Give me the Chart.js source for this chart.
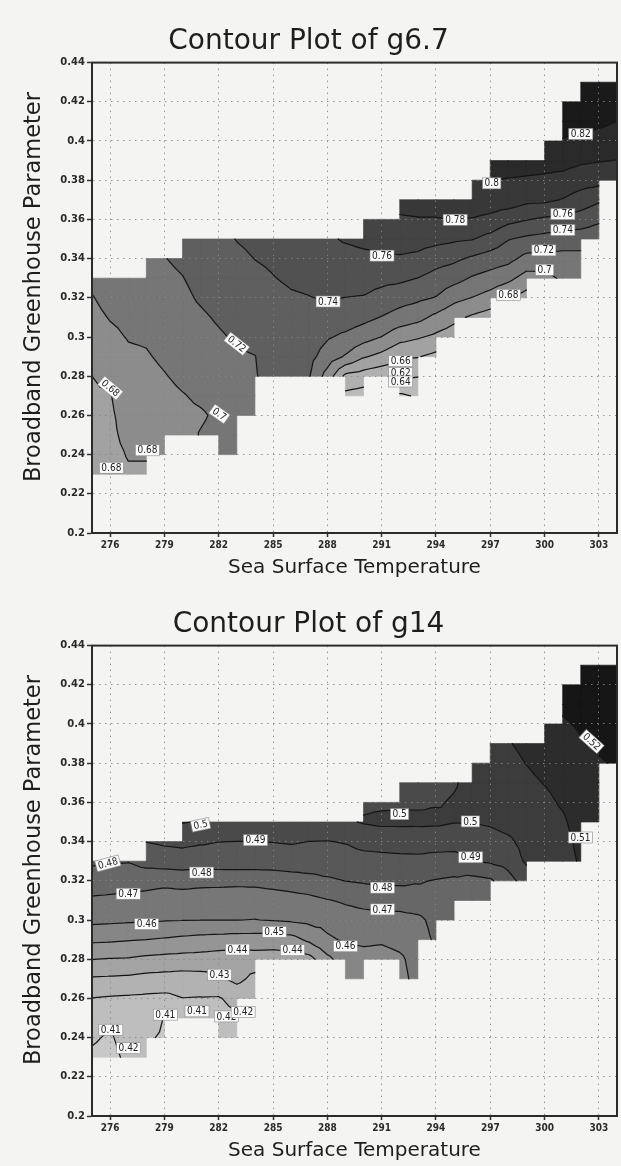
<!DOCTYPE html>
<html lang="en">
<head>
<meta charset="utf-8">
<title>Contour plots of g6.7 and g14</title>
<script src="https://cdn.jsdelivr.net/npm/chart.js@4.4.1/dist/chart.umd.min.js"></script>
<style>
    html, body { margin: 0; padding: 0; background: #f4f4f3; }
    .panel { width: 621px; height: 583px; }
    canvas { display: block; }
</style>
</head>
<body>
<div class="panel"><canvas id="g67-canvas" width="621" height="583"></canvas></div>
<div class="panel"><canvas id="g14-canvas" width="621" height="583"></canvas></div>
<script>
"use strict";

// Axis ticks
const sstTicks = [276, 279, 282, 285, 288, 291, 294, 297, 300, 303];
const ghpTicks = [0.2, 0.22, 0.24, 0.26, 0.28, 0.3, 0.32, 0.34, 0.36, 0.38, 0.4, 0.42, 0.44];

// Grid nodes along the temperature axis (one data cell = 1 K by 0.01)
const sstNodes = [275, 276, 277, 278, 279, 280, 281, 282, 283, 284, 285, 286, 287, 288, 289,
    290, 291, 292, 293, 294, 295, 296, 297, 298, 299, 300, 301, 302, 303, 304];

// Lower / upper edge of the data region for each cell column 275 ... 303
const cellLow = [0.23, 0.23, 0.23, 0.24, 0.25, 0.25, 0.25, 0.24, 0.26, 0.28, 0.28, 0.28, 0.28, 0.28, 0.27,
    0.28, 0.28, 0.27, 0.29, 0.30, 0.31, 0.31, 0.32, 0.32, 0.33, 0.33, 0.33, 0.35, 0.38];
const cellHigh = [0.33, 0.33, 0.33, 0.34, 0.34, 0.35, 0.35, 0.35, 0.35, 0.35, 0.35, 0.35, 0.35, 0.35, 0.35,
    0.36, 0.36, 0.37, 0.37, 0.37, 0.37, 0.38, 0.39, 0.39, 0.39, 0.40, 0.42, 0.43, 0.43];

// g6.7 at the nodes, in thousandths. One list per node column, from its lowest node upwards.
const g67Values = [
    [672, 673, 674, 676, 678, 680, 685, 690, 695, 699, 705],
    [674, 675, 676, 677, 679, 684, 690, 696, 701, 706, 710],
    [678, 681, 685, 688, 691, 694, 697, 701, 704, 708, 712],
    [678, 681, 685, 688, 692, 695, 698.5, 702, 706, 710, 714, 718],
    [684, 687, 691, 695, 699, 703, 706.5, 710, 713, 716.5, 719.5],
    [693, 696, 699, 704, 708, 711, 714, 716.5, 719.5, 723, 726],
    [701, 698, 703, 707, 711, 714, 717.5, 722, 725, 728, 731],
    [706, 705, 703, 706, 710, 714, 718, 722, 726, 729, 732, 736],
    [708, 708, 709, 712, 715, 718, 722, 726, 730, 734, 737, 740.5],
    [713, 716, 719, 719.7, 724, 729, 733, 737, 740.2, 743],
    [725, 727, 730, 733, 736, 739.5, 742, 745],
    [727, 730, 733, 735.5, 738.5, 742, 745, 748],
    [721, 726, 731, 735, 739.6, 743, 747, 750],
    [692, 711, 722, 732, 741, 746.5, 752, 757],
    [635, 655, 698, 716, 731, 739.8, 747, 753, 762],
    [632, 650, 682, 708, 726, 739, 747, 755, 765, 772],
    [645, 674, 699.5, 719, 734, 745, 758, 766, 772],
    [617, 644, 663, 687, 712, 728, 744, 758, 768, 778, 786],
    [622, 641, 661, 682, 706, 724, 739.8, 756, 767, 779, 787],
    [655, 676, 695, 719, 733, 748, 766, 779, 789],
    [670, 685, 706, 727, 744, 763, 780.2, 791],
    [677, 699.5, 718, 737, 761, 779, 791, 799],
    [671, 692, 712, 731, 753, 776, 789, 800.3, 808],
    [680.5, 705, 726, 741, 766, 792, 799, 808],
    [672, 692, 714, 736, 761, 785, 798, 807],
    [694, 713, 733, 757, 784, 797, 806, 816],
    [703, 714, 729, 754, 779, 794, 807, 819, 826, 831],
    [705, 714, 729, 751, 771, 789, 803, 815, 826, 833, 838],
    [726, 744, 763, 787, 801, 813, 824, 832, 838],
    [785, 799.5, 811, 819.8, 829, 836]
];
const g67Levels = [0.62, 0.64, 0.66, 0.68, 0.70, 0.72, 0.74, 0.76, 0.78, 0.80, 0.82];
// [text, sst, ghp, rotation in degrees]
const g67Labels = [
    ["0.82", 302.0, 0.4036, 0], ["0.8", 297.08, 0.3784, 0], ["0.78", 295.06, 0.3598, 0],
    ["0.76", 291.02, 0.3415, 0], ["0.76", 301.01, 0.3627, 0], ["0.74", 301.01, 0.3546, 0],
    ["0.72", 299.96, 0.3442, 0], ["0.7", 300.0, 0.3343, 0], ["0.68", 298.0, 0.3215, 0],
    ["0.74", 288.04, 0.3181, 0], ["0.66", 292.05, 0.2878, 0], ["0.62", 292.05, 0.2817, 0],
    ["0.64", 292.05, 0.2773, 0], ["0.72", 283.0, 0.2965, 38], ["0.7", 282.04, 0.2607, 35],
    ["0.68", 276.02, 0.2739, 40], ["0.68", 278.06, 0.2422, 0], ["0.68", 276.07, 0.2333, 0]
];

// g14 at the nodes, same layout
const g14Values = [
    [0.408, 0.4115, 0.414, 0.4198, 0.429, 0.4402, 0.452, 0.4625, 0.4685, 0.4755, 0.4815],
    [0.406, 0.4085, 0.4135, 0.419, 0.4285, 0.4395, 0.4515, 0.462, 0.468, 0.4745, 0.481],
    [0.413, 0.4155, 0.416, 0.4185, 0.428, 0.4392, 0.4507, 0.4615, 0.4678, 0.4738, 0.4805],
    [0.414, 0.411, 0.4135, 0.418, 0.4268, 0.4378, 0.45, 0.461, 0.4665, 0.4735, 0.4835, 0.4902],
    [0.409, 0.4098, 0.4175, 0.4262, 0.437, 0.449, 0.4606, 0.4655, 0.4725, 0.4848, 0.4915],
    [0.4115, 0.4198, 0.4256, 0.4365, 0.4478, 0.4603, 0.4655, 0.4735, 0.4855, 0.4922, 0.5005],
    [0.4125, 0.4195, 0.4262, 0.4362, 0.4468, 0.4601, 0.4652, 0.4727, 0.484, 0.4912, 0.4995],
    [0.4145, 0.4165, 0.4192, 0.4285, 0.4352, 0.4462, 0.4601, 0.465, 0.4725, 0.4855, 0.4901, 0.4985],
    [0.4165, 0.418, 0.4235, 0.4325, 0.4345, 0.4455, 0.4601, 0.4648, 0.4722, 0.486, 0.4899, 0.4985],
    [0.422, 0.4275, 0.4355, 0.4455, 0.4598, 0.4648, 0.4725, 0.4855, 0.4899, 0.4985],
    [0.4355, 0.4448, 0.4605, 0.4655, 0.4735, 0.4855, 0.4902, 0.4985],
    [0.4355, 0.4465, 0.4613, 0.4665, 0.4745, 0.4865, 0.4906, 0.4985],
    [0.4365, 0.452, 0.4625, 0.4675, 0.4762, 0.4865, 0.4899, 0.4985],
    [0.4475, 0.4585, 0.4632, 0.4695, 0.4785, 0.4858, 0.4897, 0.4985],
    [0.4525, 0.4555, 0.4612, 0.4658, 0.4712, 0.4801, 0.4862, 0.4905, 0.4985],
    [0.4535, 0.4568, 0.4618, 0.4668, 0.4725, 0.4812, 0.4868, 0.4928, 0.5008, 0.4985],
    [0.4565, 0.4612, 0.4668, 0.4738, 0.4822, 0.4875, 0.493, 0.502, 0.4985],
    [0.4575, 0.4585, 0.4628, 0.4665, 0.4745, 0.4818, 0.4878, 0.4935, 0.502, 0.4988, 0.4985],
    [0.4625, 0.4635, 0.465, 0.4675, 0.4765, 0.4807, 0.4878, 0.494, 0.5018, 0.4988, 0.4985],
    [0.4718, 0.4735, 0.4775, 0.4795, 0.4862, 0.4945, 0.5015, 0.4995, 0.4985],
    [0.4745, 0.4765, 0.4785, 0.4855, 0.4945, 0.5003, 0.5005, 0.4995],
    [0.4755, 0.4765, 0.4902, 0.4955, 0.5002, 0.5015, 0.5018, 0.5025],
    [0.4745, 0.4785, 0.4912, 0.4962, 0.5012, 0.5035, 0.5045, 0.506, 0.508],
    [0.4865, 0.4935, 0.4982, 0.5035, 0.5055, 0.5065, 0.5078, 0.5095],
    [0.4945, 0.5015, 0.5035, 0.5055, 0.507, 0.5082, 0.5102, 0.5118],
    [0.5035, 0.5048, 0.5062, 0.5078, 0.5103, 0.5125, 0.5145, 0.517],
    [0.506, 0.507, 0.5085, 0.5112, 0.5132, 0.5155, 0.5175, 0.5192, 0.5212, 0.5225],
    [0.5112, 0.5125, 0.5145, 0.5158, 0.5172, 0.5185, 0.5195, 0.5208, 0.5225, 0.5235, 0.5245],
    [0.5155, 0.5168, 0.5182, 0.5195, 0.5208, 0.522, 0.5232, 0.5242, 0.525],
    [0.5205, 0.5218, 0.523, 0.524, 0.5248, 0.5255]
];
const g14Levels = [0.41, 0.42, 0.43, 0.44, 0.45, 0.46, 0.47, 0.48, 0.49, 0.50, 0.51, 0.52];
const g14Labels = [
    ["0.52", 302.6, 0.391, 42], ["0.51", 301.98, 0.3421, 0], ["0.5", 281.0, 0.3486, -12],
    ["0.49", 284.03, 0.3407, 0], ["0.5", 291.99, 0.354, 0], ["0.5", 295.9, 0.3503, 0],
    ["0.49", 295.92, 0.332, 0], ["0.48", 275.88, 0.3289, -15], ["0.48", 281.06, 0.3242, 0],
    ["0.48", 291.05, 0.3165, 0], ["0.47", 277.0, 0.3134, 0], ["0.47", 291.05, 0.3054, 0],
    ["0.46", 278.02, 0.2979, 0], ["0.45", 285.07, 0.294, 0], ["0.44", 283.04, 0.2849, 0],
    ["0.44", 286.08, 0.2846, 0], ["0.46", 289.0, 0.2866, 0], ["0.43", 282.04, 0.2721, 0],
    ["0.41", 279.05, 0.2517, 0], ["0.41", 280.8, 0.2534, 0], ["0.42", 282.43, 0.2508, 0],
    ["0.42", 283.35, 0.2531, 0], ["0.41", 276.04, 0.244, 0], ["0.42", 277.02, 0.2346, 0]
];

// Lowest node of a node column = lowest edge of the cells next to it
function NodeStart(i) {
    const lows = [];
    if (i > 0) lows.push(cellLow[i - 1]);
    if (i < cellLow.length) lows.push(cellLow[i]);
    return Math.min(...lows);
}

function NodeValue(field, i, ghp) {
    const k = Math.round((ghp - NodeStart(i)) * 100);
    return field.values[i][k] / field.unit;
}

// Splits every data cell into four triangles (pixel space) and hands them to fn
function ForEachTriangle(field, xScale, yScale, fn) {
    for (let c = 0; c < cellLow.length; c++) {
        const k0 = Math.round(cellLow[c] * 100);
        const k1 = Math.round(cellHigh[c] * 100);
        const pxa = xScale.getPixelForValue(sstNodes[c]);
        const pxb = xScale.getPixelForValue(sstNodes[c + 1]);
        for (let k = k0; k < k1; k++) {
            const ya = k / 100, yb = (k + 1) / 100;
            const pya = yScale.getPixelForValue(ya), pyb = yScale.getPixelForValue(yb);
            const p00 = { x: pxa, y: pya, v: NodeValue(field, c, ya) };
            const p10 = { x: pxb, y: pya, v: NodeValue(field, c + 1, ya) };
            const p01 = { x: pxa, y: pyb, v: NodeValue(field, c, yb) };
            const p11 = { x: pxb, y: pyb, v: NodeValue(field, c + 1, yb) };
            const pc = { x: (pxa + pxb) / 2, y: (pya + pyb) / 2, v: (p00.v + p10.v + p01.v + p11.v) / 4 };
            fn([p00, p10, pc]);
            fn([p10, p11, pc]);
            fn([p11, p01, pc]);
            fn([p01, p00, pc]);
        }
    }
}

function ClipPolygon(poly, level, keepAbove) {
    const out = [];
    for (let i = 0; i < poly.length; i++) {
        const a = poly[i], b = poly[(i + 1) % poly.length];
        const inA = keepAbove ? a.v >= level : a.v <= level;
        const inB = keepAbove ? b.v >= level : b.v <= level;
        if (inA) out.push(a);
        if (inA !== inB) {
            const t = (level - a.v) / (b.v - a.v);
            out.push({ x: a.x + t * (b.x - a.x), y: a.y + t * (b.y - a.y), v: level });
        }
    }
    return out;
}

const contourPlugin = {
    id: 'contourField',
    beforeDraw(chart, args, field) {
        const { ctx, chartArea: area, scales: { x, y } } = chart;
        ctx.save();
        ctx.fillStyle = field.background;
        ctx.fillRect(area.left, area.top, area.width, area.height);

        // Filled bands between contour levels
        const paths = field.colors.map(() => new Path2D());
        const n = field.levels.length;
        ForEachTriangle(field, x, y, (tri) => {
            const vmin = Math.min(tri[0].v, tri[1].v, tri[2].v);
            const vmax = Math.max(tri[0].v, tri[1].v, tri[2].v);
            for (let k = 0; k <= n; k++) {
                const lo = k > 0 ? field.levels[k - 1] : -Infinity;
                const hi = k < n ? field.levels[k] : Infinity;
                if (vmax < lo || vmin > hi) continue;
                let poly = tri;
                if (k > 0) poly = ClipPolygon(poly, lo, true);
                if (k < n) poly = ClipPolygon(poly, hi, false);
                if (poly.length < 3) continue;
                const p = paths[k];
                p.moveTo(poly[0].x, poly[0].y);
                for (let i = 1; i < poly.length; i++) p.lineTo(poly[i].x, poly[i].y);
                p.closePath();
            }
        });
        ctx.lineWidth = 0.7;
        field.colors.forEach((color, k) => {
            ctx.fillStyle = color;
            ctx.strokeStyle = color;
            ctx.fill(paths[k]);
            ctx.stroke(paths[k]);
        });
        ctx.restore();
    },
    afterDatasetsDraw(chart, args, field) {
        const { ctx, scales: { x, y } } = chart;
        ctx.save();

        // Contour lines
        ctx.beginPath();
        ForEachTriangle(field, x, y, (tri) => {
            field.levels.forEach((level) => {
                const pts = [];
                for (let i = 0; i < 3; i++) {
                    const a = tri[i], b = tri[(i + 1) % 3];
                    if ((a.v >= level) !== (b.v >= level)) {
                        const t = (level - a.v) / (b.v - a.v);
                        pts.push([a.x + t * (b.x - a.x), a.y + t * (b.y - a.y)]);
                    }
                }
                if (pts.length === 2) {
                    ctx.moveTo(pts[0][0], pts[0][1]);
                    ctx.lineTo(pts[1][0], pts[1][1]);
                }
            });
        });
        ctx.strokeStyle = '#141414';
        ctx.lineWidth = 1.2;
        ctx.lineCap = 'round';
        ctx.stroke();

        // Contour labels
        ctx.font = "10px 'DejaVu Sans Condensed', 'DejaVu Sans', sans-serif";
        ctx.textAlign = 'center';
        ctx.textBaseline = 'middle';
        field.labels.forEach(([text, lx, ly, angle]) => {
            ctx.save();
            ctx.translate(x.getPixelForValue(lx), y.getPixelForValue(ly));
            ctx.rotate(angle * Math.PI / 180);
            const w = ctx.measureText(text).width + 4;
            const h = 11;
            ctx.fillStyle = '#fbfbfb';
            ctx.fillRect(-w / 2, -h / 2, w, h);
            ctx.strokeStyle = '#8a8a8a';
            ctx.lineWidth = 0.6;
            ctx.strokeRect(-w / 2, -h / 2, w, h);
            ctx.fillStyle = '#222';
            ctx.fillText(text, 0, 0.5);
            ctx.restore();
        });
        ctx.restore();
    },
    afterDraw(chart) {
        // Frame round the plot
        const { ctx, chartArea: a } = chart;
        ctx.save();
        ctx.strokeStyle = '#2b2b2b';
        ctx.lineWidth = 2;
        ctx.strokeRect(a.left, a.top, a.width, a.height);
        ctx.restore();
    }
};

function CreateContourChart(canvasId, titleText, field) {
    const textColor = '#1e1e1e';
    const plainFont = "'DejaVu Sans', sans-serif";
    return new Chart(document.getElementById(canvasId), {
        type: 'scatter',
        data: { datasets: [] },
        options: {
            responsive: false,
            animation: false,
            events: [],
            layout: { padding: { left: 0, right: 4, top: 0, bottom: 0 } },
            plugins: {
                legend: { display: false },
                tooltip: { enabled: false },
                title: {
                    display: true,
                    text: titleText,
                    color: textColor,
                    font: { family: plainFont, size: 28, weight: 'normal', lineHeight: 1.2 },
                    padding: { top: 25, bottom: 4 }
                },
                contourField: field
            },
            scales: {
                x: {
                    type: 'linear',
                    min: 275,
                    max: 304,
                    afterBuildTicks: (scale) => { scale.ticks = sstTicks.map((v) => ({ value: v })); },
                    afterFit: (scale) => { scale.height = 50; },
                    ticks: {
                        color: '#2a2a2a',
                        font: { family: "'DejaVu Sans Condensed', 'DejaVu Sans', sans-serif", size: 10, weight: 'bold' },
                        padding: 2,
                        maxRotation: 0,
                        autoSkip: false,
                        callback: (v) => String(v)
                    },
                    grid: { color: 'rgba(135,135,135,0.85)', lineWidth: 1, tickLength: 4, tickColor: '#333', tickWidth: 1.5 },
                    border: { display: true, color: '#2b2b2b', width: 2, dash: [1.5, 4.5] },
                    title: {
                        display: true,
                        text: 'Sea Surface Temperature',
                        color: textColor,
                        font: { family: plainFont, size: 20, weight: 'normal', lineHeight: 1.2 },
                        padding: { top: 0, bottom: 3 }
                    }
                },
                y: {
                    type: 'linear',
                    min: 0.2,
                    max: 0.44,
                    afterBuildTicks: (scale) => { scale.ticks = ghpTicks.map((v) => ({ value: v })); },
                    afterFit: (scale) => { scale.width = 92; },
                    ticks: {
                        color: '#2a2a2a',
                        font: { family: plainFont, size: 10, weight: 'bold' },
                        padding: 2,
                        autoSkip: false,
                        callback: (v) => String(Number(v.toFixed(2)))
                    },
                    grid: { color: 'rgba(135,135,135,0.85)', lineWidth: 1, tickLength: 5, tickColor: '#333', tickWidth: 1.5 },
                    border: { display: true, color: '#2b2b2b', width: 2, dash: [1.5, 4.5] },
                    title: {
                        display: true,
                        text: '   Broadband Greenhouse Parameter',
                        color: textColor,
                        font: { family: plainFont, size: 22.5, weight: 'normal', lineHeight: 1.2 },
                        padding: { top: 20.5, bottom: 0 }
                    }
                }
            }
        },
        plugins: [contourPlugin]
    });
}

CreateContourChart("g67-canvas", "Contour Plot of g6.7", {
    values: g67Values,
    unit: 1000,
    levels: g67Levels,
    labels: g67Labels,
    background: '#f4f4f3',
    colors: ['#c4c4c4', '#bababa', '#b0b0b0', '#a2a2a2', '#8c8c8c', '#767676',
        '#5f5f5f', '#515151', '#444444', '#383838', '#2a2a2a', '#1a1a1a']
});

CreateContourChart("g14-canvas", "Contour Plot of g14", {
    values: g14Values,
    unit: 1,
    levels: g14Levels,
    labels: g14Labels,
    background: '#f4f4f3',
    colors: ['#c8c8c8', '#bebebe', '#b2b2b2', '#a4a4a4', '#959595', '#868686', '#777777',
        '#676767', '#585858', '#4a4a4a', '#3c3c3c', '#2c2c2c', '#161616']
});
</script>
</body>
</html>
